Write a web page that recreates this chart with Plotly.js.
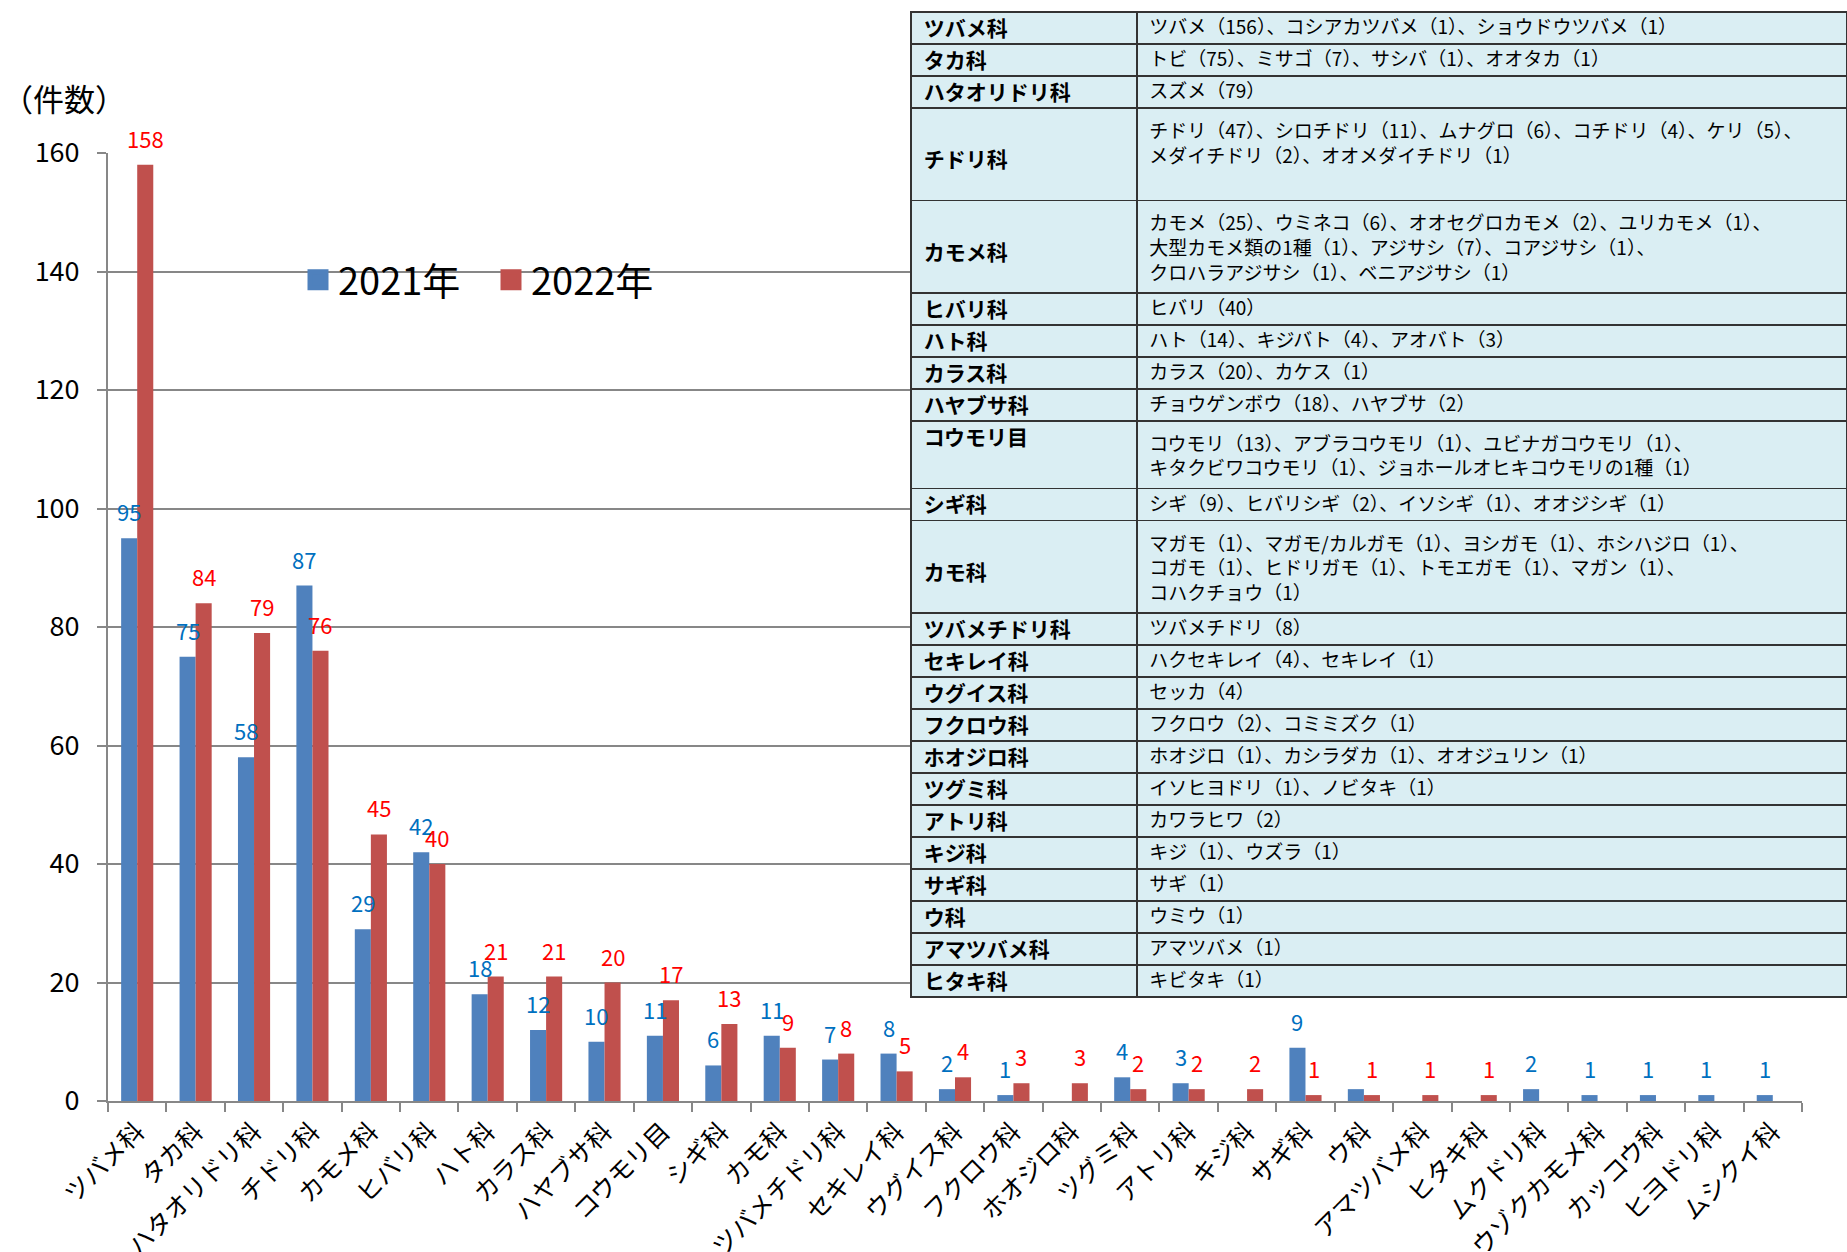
<!DOCTYPE html>
<html>
<head>
<meta charset="utf-8">
<script src="https://cdn.plot.ly/plotly-3.0.1.min.js"></script>
<style>
html, body { margin: 0; padding: 0; background: #ffffff; }
#chart { width: 1847px; height: 1252px; }
</style>
</head>
<body>
<div id="chart"></div>
<script>
// ---------------- data ----------------
const categories = [
  'ツバメ科', 'タカ科', 'ハタオリドリ科', 'チドリ科', 'カモメ科', 'ヒバリ科', 'ハト科', 'カラス科',
  'ハヤブサ科', 'コウモリ目', 'シギ科', 'カモ科', 'ツバメチドリ科', 'セキレイ科', 'ウグイス科',
  'フクロウ科', 'ホオジロ科', 'ツグミ科', 'アトリ科', 'キジ科', 'サギ科', 'ウ科', 'アマツバメ科',
  'ヒタキ科', 'ムクドリ科', 'トウゾクカモメ科', 'カッコウ科', 'ヒヨドリ科', 'ムシクイ科'
];
const counts2021 = [95, 75, 58, 87, 29, 42, 18, 12, 10, 11, 6, 11, 7, 8, 2, 1, null, 4, 3, null, 9, 2, null, null, 2, 1, 1, 1, 1];
const counts2022 = [158, 84, 79, 76, 45, 40, 21, 21, 20, 17, 13, 9, 8, 5, 4, 3, 3, 2, 2, 2, 1, 1, 1, 1, null, null, null, null, null];
const unlabeled2021 = ['ウ科'];
const seriesNames = ['2021年', '2022年'];
const yTickValues = [0, 20, 40, 60, 80, 100, 120, 140, 160];
const yAxisLabel = '（件数）';

const tableFamilies = [
  'ツバメ科', 'タカ科', 'ハタオリドリ科', 'チドリ科', 'カモメ科', 'ヒバリ科', 'ハト科', 'カラス科',
  'ハヤブサ科', 'コウモリ目', 'シギ科', 'カモ科', 'ツバメチドリ科', 'セキレイ科', 'ウグイス科',
  'フクロウ科', 'ホオジロ科', 'ツグミ科', 'アトリ科', 'キジ科', 'サギ科', 'ウ科', 'アマツバメ科', 'ヒタキ科'
];
const tableSpecies = [
  ['ツバメ（156）、コシアカツバメ（1）、ショウドウツバメ（1）'],
  ['トビ（75）、ミサゴ（7）、サシバ（1）、オオタカ（1）'],
  ['スズメ（79）'],
  ['チドリ（47）、シロチドリ（11）、ムナグロ（6）、コチドリ（4）、ケリ（5）、', 'メダイチドリ（2）、オオメダイチドリ（1）'],
  ['カモメ（25）、ウミネコ（6）、オオセグロカモメ（2）、ユリカモメ（1）、', '大型カモメ類の1種（1）、アジサシ（7）、コアジサシ（1）、', 'クロハラアジサシ（1）、ベニアジサシ（1）'],
  ['ヒバリ（40）'],
  ['ハト（14）、キジバト（4）、アオバト（3）'],
  ['カラス（20）、カケス（1）'],
  ['チョウゲンボウ（18）、ハヤブサ（2）'],
  ['コウモリ（13）、アブラコウモリ（1）、ユビナガコウモリ（1）、', 'キタクビワコウモリ（1）、ジョホールオヒキコウモリの1種（1）'],
  ['シギ（9）、ヒバリシギ（2）、イソシギ（1）、オオジシギ（1）'],
  ['マガモ（1）、マガモ/カルガモ（1）、ヨシガモ（1）、ホシハジロ（1）、', 'コガモ（1）、ヒドリガモ（1）、トモエガモ（1）、マガン（1）、', 'コハクチョウ（1）'],
  ['ツバメチドリ（8）'],
  ['ハクセキレイ（4）、セキレイ（1）'],
  ['セッカ（4）'],
  ['フクロウ（2）、コミミズク（1）'],
  ['ホオジロ（1）、カシラダカ（1）、オオジュリン（1）'],
  ['イソヒヨドリ（1）、ノビタキ（1）'],
  ['カワラヒワ（2）'],
  ['キジ（1）、ウズラ（1）'],
  ['サギ（1）'],
  ['ウミウ（1）'],
  ['アマツバメ（1）'],
  ['キビタキ（1）']
];

// ---------------- layout / style constants ----------------
const W = 1847, H = 1252;
const FONT = 'Noto Sans CJK JP, Noto Sans, sans-serif';
const BLUE = '#4F81BD', RED = '#C0504D';
const BLUE_TXT = '#0070C0', RED_TXT = '#FF0000';
const GRID = '#878787';
const xDomain = [108 / W, 1802 / W];
const yDomain = [(H - 1101) / H, (H - 153) / H];
const barGap = 0.45;
const catPx = (xDomain[1] - xDomain[0]) * W / categories.length;
const barOffsetPx = catPx * (1 - barGap) / 4;
const labelLift = 27;
// row heights in lines (visual layout of table rows)
const tableRowLines = [1, 1, 1, 3, 3, 1, 1, 1, 1, 2, 1, 3, 1, 1, 1, 1, 1, 1, 1, 1, 1, 1, 1, 1];
const INVIS = '<span style="color:rgba(0,0,0,0)">.</span>';
const NB = '\u00a0';

// ---------------- traces ----------------
const barBlue = {
  type: 'bar', x: categories, y: counts2021, name: seriesNames[0],
  marker: { color: BLUE }, showlegend: false, cliponaxis: false, hoverinfo: 'x+y'
};
const barRed = {
  type: 'bar', x: categories, y: counts2022, name: seriesNames[1],
  marker: { color: RED }, showlegend: false, cliponaxis: false, hoverinfo: 'x+y'
};
const legBlue = {
  type: 'scatter', mode: 'markers', x: [null], y: [null], name: seriesNames[0],
  marker: { symbol: 'square', size: 16, color: BLUE, line: { color: BLUE, width: 5 } }
};
const legRed = {
  type: 'scatter', mode: 'markers', x: [null], y: [null], name: seriesNames[1],
  marker: { symbol: 'square', size: 16, color: RED, line: { color: RED, width: 5 } }
};

const leftCol = tableFamilies.map((f, i) => {
  const n = tableRowLines[i];
  if (n === 3) return INVIS + '<br>' + NB + f;
  return NB + f;
});
const rightCol = tableSpecies.map((lines, i) => {
  const n = tableRowLines[i];
  const parts = lines.map(l => NB + l);
  while (parts.length < n) parts.push(INVIS);
  return parts.join('<br>');
});

const cellStyle = {
  align: 'left',
  height: 32,
  fill: { color: '#DAEEF3' },
  line: { color: '#333333', width: 1.6 },
  font: { family: FONT, size: [21, 19], color: '#000000', weight: ['bold', 'normal'] }
};
const table = {
  type: 'table',
  domain: { x: [911 / W, 1], y: [0, 1 - 12 / H] },
  columnwidth: [226, 710],
  header: Object.assign({ values: [[leftCol[0]], [rightCol[0]]] }, cellStyle),
  cells: Object.assign({ values: [leftCol.slice(1), rightCol.slice(1)] }, cellStyle)
};

// ---------------- annotations (data labels) ----------------
const annotations = [];
categories.forEach((c, i) => {
  if (counts2021[i] != null && unlabeled2021.indexOf(c) < 0) {
    annotations.push({
      x: c, y: counts2021[i], xref: 'x', yref: 'y', text: String(counts2021[i]),
      showarrow: false, xshift: -barOffsetPx, yshift: labelLift, yanchor: 'middle',
      font: { family: FONT, size: 22, color: BLUE_TXT }
    });
  }
  if (counts2022[i] != null) {
    annotations.push({
      x: c, y: counts2022[i], xref: 'x', yref: 'y', text: String(counts2022[i]),
      showarrow: false, xshift: barOffsetPx, yshift: labelLift, yanchor: 'middle',
      font: { family: FONT, size: 22, color: RED_TXT }
    });
  }
});
annotations.push({
  xref: 'paper', yref: 'paper', x: 0, y: 1 - 98 / H, xanchor: 'left', yanchor: 'middle',
  text: yAxisLabel, showarrow: false, font: { family: FONT, size: 31, color: '#000000' }
});

const layout = {
  width: W, height: H, autosize: false,
  margin: { l: 0, r: 0, t: 0, b: 0, pad: 0 },
  paper_bgcolor: '#ffffff', plot_bgcolor: 'rgba(0,0,0,0)',
  font: { family: FONT, color: '#000000' },
  barmode: 'group', bargap: barGap, bargroupgap: 0,
  xaxis: {
    domain: xDomain, type: 'category', range: [-0.5, categories.length - 0.5],
    showline: true, linecolor: GRID, linewidth: 2,
    ticks: 'outside', tickson: 'boundaries', ticklen: 9, tickcolor: GRID, tickwidth: 2,
    tickangle: -45, tickfont: { family: FONT, size: 25, color: '#000000' },
    ticklabelstandoff: 4, showgrid: false, zeroline: false, fixedrange: true
  },
  yaxis: {
    domain: yDomain, range: [0, 160], tickvals: yTickValues,
    showline: true, linecolor: GRID, linewidth: 2,
    ticks: 'outside', ticklen: 9, tickcolor: GRID, tickwidth: 2,
    showgrid: true, gridcolor: GRID, gridwidth: 2, zeroline: false,
    tickfont: { family: FONT, size: 27, color: '#000000' }, ticklabelstandoff: 12, fixedrange: true
  },
  legend: {
    orientation: 'h', x: 298 / W, y: 1 - 280 / H, xanchor: 'left', yanchor: 'middle',
    bgcolor: 'rgba(0,0,0,0)', font: { family: FONT, size: 38, color: '#000000' },
    itemwidth: 30, tracegroupgap: 0, entrywidth: 148
  },
  annotations: annotations
};

Plotly.newPlot('chart', [barBlue, barRed, legBlue, legRed, table], layout, { displayModeBar: false, staticPlot: true });
</script>
</body>
</html>
